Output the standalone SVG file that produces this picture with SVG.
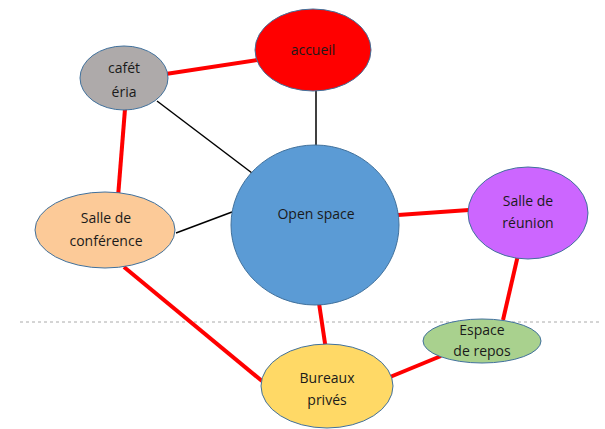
<svg xmlns="http://www.w3.org/2000/svg" width="605" height="429" viewBox="0 0 605 429">
<style>
.n{stroke:#41719c;stroke-width:1}
.t{font-family:"Open Sans","Liberation Sans",sans-serif;font-size:14px;fill:#1a1a1a;text-anchor:middle}
.r{stroke:#ff0000;stroke-width:4;fill:none}
.b{stroke:#000;stroke-width:1.5;fill:none}
</style>
<rect width="605" height="429" fill="#fff"/>
<line x1="20" y1="322" x2="600" y2="322" stroke="#aaa" stroke-width="1" stroke-dasharray="3,3"/>
<g id="connectors">
<line class="r" x1="146" y1="77" x2="257" y2="60"/>
<line class="b" x1="316" y1="90" x2="316" y2="146"/>
<line class="b" x1="157" y1="101" x2="252" y2="173"/>
<line class="r" x1="125" y1="109" x2="118" y2="197"/>
<line class="b" x1="176" y1="233" x2="232" y2="212"/>
<line class="r" x1="398" y1="215" x2="469" y2="210"/>
<line class="r" x1="316" y1="283" x2="326" y2="350"/>
<line class="r" x1="124" y1="267" x2="262" y2="381"/>
<line class="r" x1="518" y1="255" x2="503" y2="320"/>
<line class="r" x1="441" y1="356" x2="390" y2="377"/>
</g>
<g id="accueil"><ellipse class="n" cx="313" cy="50" rx="58" ry="41" fill="#ff0000"/><text class="t" x="313" y="55">accueil</text></g>
<g id="cafeteria"><ellipse class="n" cx="124" cy="78" rx="44" ry="32" fill="#aeaaaa"/><text class="t" x="124" y="73">cafét</text><text class="t" x="124" y="97">éria</text></g>
<g id="openspace"><ellipse class="n" cx="315" cy="225" rx="84" ry="80" fill="#5b9bd5"/><text class="t" x="316" y="219">Open space</text></g>
<g id="conference"><ellipse class="n" cx="105" cy="230" rx="70" ry="38" fill="#fcca98"/><text class="t" x="106" y="223">Salle de</text><text class="t" x="106" y="246">conférence</text></g>
<g id="reunion"><ellipse class="n" cx="528" cy="213" rx="60" ry="46" fill="#cc66ff"/><text class="t" x="528" y="206">Salle de</text><text class="t" x="528" y="228">réunion</text></g>
<g id="repos"><ellipse class="n" cx="482" cy="341" rx="59" ry="22" fill="#a9d18e"/><text class="t" x="482" y="335">Espace</text><text class="t" x="482" y="356">de repos</text></g>
<g id="bureaux"><ellipse class="n" cx="327" cy="386" rx="66" ry="42" fill="#ffd966"/><text class="t" x="327" y="383">Bureaux</text><text class="t" x="327" y="405">privés</text></g>
</svg>
